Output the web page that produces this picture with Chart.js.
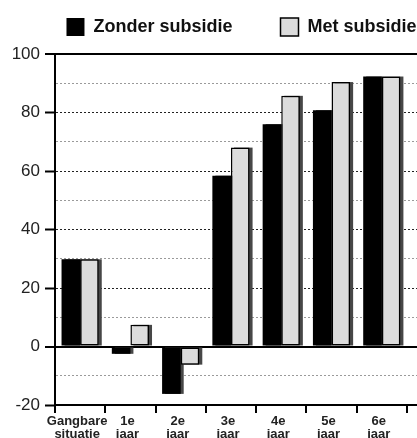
<!DOCTYPE html>
<html>
<head>
<meta charset="utf-8">
<script src="https://cdn.jsdelivr.net/npm/chart.js@4.4.1/dist/chart.umd.min.js"></script>
<style>
html,body{margin:0;padding:0;background:#fff;}
#wrap{width:417px;height:438px;position:relative;overflow:hidden;}
</style>
</head>
<body>
<div id="wrap"><canvas id="c" width="417" height="438"></canvas></div>
<script>
const categories = [["Gangbare","situatie"],["1e","jaar"],["2e","jaar"],["3e","jaar"],["4e","jaar"],["5e","jaar"],["6e","jaar"]];
const seriesNames = ["Zonder subsidie","Met subsidie"];
const zonderSubsidie = [29.8, -2.5, -16.2, 58.4, 76, 80.8, 92.3];
const metSubsidie = [29.8, 7.4, -6.2, 68, 85.7, 90.4, 92.3];
const yMin = -20, yMax = 100, yStep = 10, yLabelStep = 20;

const FONT = "'Liberation Sans', Arial, Helvetica, sans-serif";

const layoutPlugin = {
  id: 'layoutTweaks',
  afterLayout(chart) {
    const lg = chart.legend;
    if (lg) { lg.left += 28; lg.right += 28; lg.top -= 8; lg.bottom -= 8; }
    const xs = chart.scales.x;
    if (xs) { xs._valueRange += 0.2; }
  },
  beforeDatasetsDraw(chart) {
    const ctx = chart.ctx;
    ctx.save();
    ctx.fillStyle = '#474747';
    chart.data.datasets.forEach((ds, i) => {
      const meta = chart.getDatasetMeta(i);
      meta.data.forEach(bar => {
        if (bar.y == null || isNaN(bar.y)) return;
        const top = Math.min(bar.y, bar.base);
        const h = Math.abs(bar.base - bar.y);
        ctx.fillRect(bar.x - bar.width / 2 + 3, top, bar.width, h);
      });
    });
    ctx.restore();
  }
};

new Chart(document.getElementById('c'), {
  type: 'bar',
  data: {
    labels: categories,
    datasets: [
      { label: seriesNames[0] + '      ', data: zonderSubsidie, backgroundColor: '#000', borderColor: '#000', borderWidth: 0 },
      { label: seriesNames[1], data: metSubsidie, backgroundColor: '#dcdcdc', borderColor: '#000', borderWidth: 1.5, borderSkipped: false }
    ]
  },
  options: {
    responsive: false,
    animation: false,
    devicePixelRatio: 1,
    layout: { padding: { left: 10, right: 0, top: 8, bottom: 0 } },
    datasets: { bar: { categoryPercentage: 0.74, barPercentage: 1.0 } },
    plugins: {
      tooltip: { enabled: false },
      legend: {
        position: 'top',
        labels: {
          boxWidth: 18, boxHeight: 18, padding: 18,
          color: '#111',
          font: { family: FONT, size: 18, weight: 'bold' }
        }
      }
    },
    scales: {
      x: {
        afterFit(scale) { scale.height = 33; },
        grid: { drawOnChartArea: false, drawTicks: true, tickLength: 8, color: '#000', lineWidth: 2, offset: true },
        border: { display: true, color: '#000', width: 2 },
        ticks: { color: '#222', font: { family: FONT, size: 13, weight: 'bold', lineHeight: 1.0 }, padding: 2, maxRotation: 0, autoSkip: false, labelOffset: -3 }
      },
      y: {
        min: yMin, max: yMax,
        afterFit(scale) { scale.width = 45; },
        ticks: {
          stepSize: yStep,
          color: '#222',
          padding: 5,
          font: { family: FONT, size: 17 },
          callback: v => (v % yLabelStep === 0 ? String(v) : '')
        },
        grid: {
          tickLength: 10,
          tickWidth: 2,
          tickColor: c => (c.tick && c.tick.value % yLabelStep === 0 ? '#000' : 'rgba(0,0,0,0)'),
          color: c => {
            if (!c.tick) return '#000';
            const v = c.tick.value;
            if (v === 0 || v === yMax || v === yMin) return '#000';
            return v % yLabelStep === 0 ? '#222' : '#9a9a9a';
          },
          lineWidth: c => {
            if (!c.tick) return 1;
            const v = c.tick.value;
            return (v === 0 || v === yMax) ? 2 : 1;
          }
        },
        border: {
          display: true, color: '#000', width: 2,
          dash: c => {
            if (!c.tick) return [];
            const v = c.tick.value;
            if (v === 0 || v === yMax || v === yMin) return [];
            return [2, 2];
          }
        }
      }
    }
  },
  plugins: [layoutPlugin]
});
</script>
</body>
</html>
